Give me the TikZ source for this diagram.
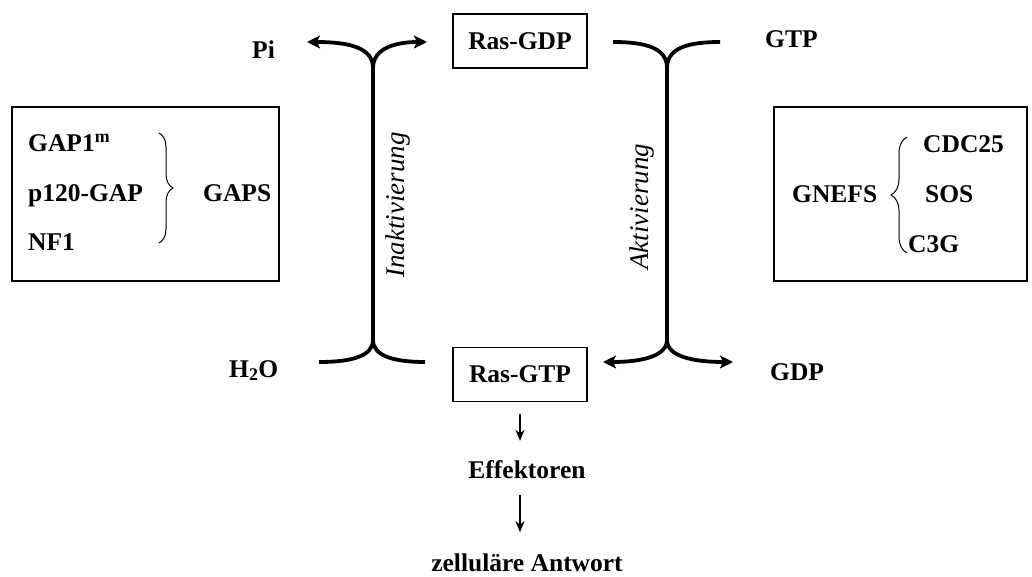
\documentclass[tikz,border=0pt]{standalone}
\usepackage{fontspec}
\setmainfont{Liberation Serif}
\usetikzlibrary{arrows.meta,decorations.pathreplacing}

\begin{document}
\begin{tikzpicture}[x=1pt,y=-1pt,
  lbl/.style={font=\fontsize{25.5}{30}\selectfont\bfseries, inner sep=0pt},
  rasbox/.style={draw, line width=1.3pt, minimum width=134pt, minimum height=54pt,
                 font=\fontsize{25.5}{30}\selectfont\bfseries},
  framebox/.style={draw, line width=1.3pt, minimum width=#1, minimum height=174pt},
  rot/.style={rotate=90, inner sep=0pt, font=\fontsize{27}{32}\selectfont\itshape},
  cyc/.style={line width=3.8pt, line join=round},
  twotips/.style={{Stealth[length=13pt,width=13pt,inset=3pt]}-{Stealth[length=13pt,width=13pt,inset=3pt]}},
  down/.style={line width=1.5pt, -{Stealth[length=11pt,width=9pt]}},
  brc/.style={line width=1pt, decorate, decoration={brace, amplitude=#1}}]
  \useasboundingbox (0,0) rectangle (1032,577);

  % Ras boxes
  \node[rasbox] (gdp) at (520,41) {Ras-GDP};
  \node[rasbox] (gtp) at (520,374.5) {Ras-GTP};

  % side labels
  \node[lbl, anchor=base west] (pi) at (252,59) {Pi};
  \node[lbl, anchor=base west] (gtpin) at (765,48) {GTP};
  \node[lbl, anchor=base west] (water) at (229,377) {H\textsubscript{2}O};
  \node[lbl, anchor=base west] (gdpout) at (770,380) {GDP};

  % cycle lines
  \coordinate (jtl) at (373,68);
  \coordinate (jbl) at (373,340);
  \coordinate (jtr) at (667,68);
  \coordinate (jbr) at (667,340);
  \coordinate (pie) at (307,42);
  \coordinate (gdpe) at (427,42);
  \coordinate (wate) at (319,362);
  \coordinate (gtpe) at (425,362);
  \coordinate (gtpine) at (720,42);
  \coordinate (gdpin) at (613,42);
  \coordinate (gtpo) at (603,362);
  \coordinate (gdpo) at (733,362);

  \draw[cyc] (jtl) -- (jbl);
  \draw[cyc] (jtr) -- (jbr);
  \draw[cyc, twotips] (pie) .. controls (350,42) and (373,48) .. (jtl)
    .. controls (373,48) and (396,42) .. (gdpe);
  \draw[cyc] (wate) .. controls (352,362) and (373,356) .. (jbl)
    .. controls (373,356) and (394,362) .. (gtpe);
  \draw[cyc] (gdpin) .. controls (646,42) and (667,48) .. (jtr)
    .. controls (667,48) and (688,42) .. (gtpine);
  \draw[cyc, twotips] (gtpo) .. controls (642,362) and (667,356) .. (jbr)
    .. controls (667,356) and (692,362) .. (gdpo);

  \node[rot] (inakt) at (398,205) {Inaktivierung};
  \node[rot] (akt) at (642,207) {Aktivierung};

  % GAPS box
  \node[framebox=267pt] (gapbox) at (145.5,194) {};
  \node[lbl, anchor=base west] (gap1) at (28,152) {GAP1\textsuperscript{m}};
  \node[lbl, anchor=base west] (p120) at (28,202) {p120-GAP};
  \node[lbl, anchor=base west] (nf1) at (28,250) {NF1};
  \draw[brc=14pt] (159,133) -- (159,243);
  \node[lbl, anchor=base west] (gaps) at (203,202) {GAPS};

  % GNEFS box
  \node[framebox=253pt] (gnefbox) at (900.5,194) {};
  \node[lbl, anchor=base west] (gnefs) at (792,203) {GNEFS};
  \draw[brc=16pt] (907,253) -- (907,137);
  \node[lbl, anchor=base west] (cdc) at (923,153) {CDC25};
  \node[lbl, anchor=base west] (sos) at (925,203) {SOS};
  \node[lbl, anchor=base west] (c3g) at (908,252) {C3G};

  % downstream
  \node[lbl, anchor=base] (eff) at (527,478) {Effektoren};
  \node[lbl, anchor=base] (antw) at (527,571) {zelluläre Antwort};
  \draw[down, shorten <=12pt, shorten >=19pt] (gtp.south) -- (gtp.south |- eff.north);
  \draw[down, shorten <=17pt, shorten >=21pt] (gtp.south |- eff.south) -- (gtp.south |- antw.north);
\end{tikzpicture}
\end{document}
